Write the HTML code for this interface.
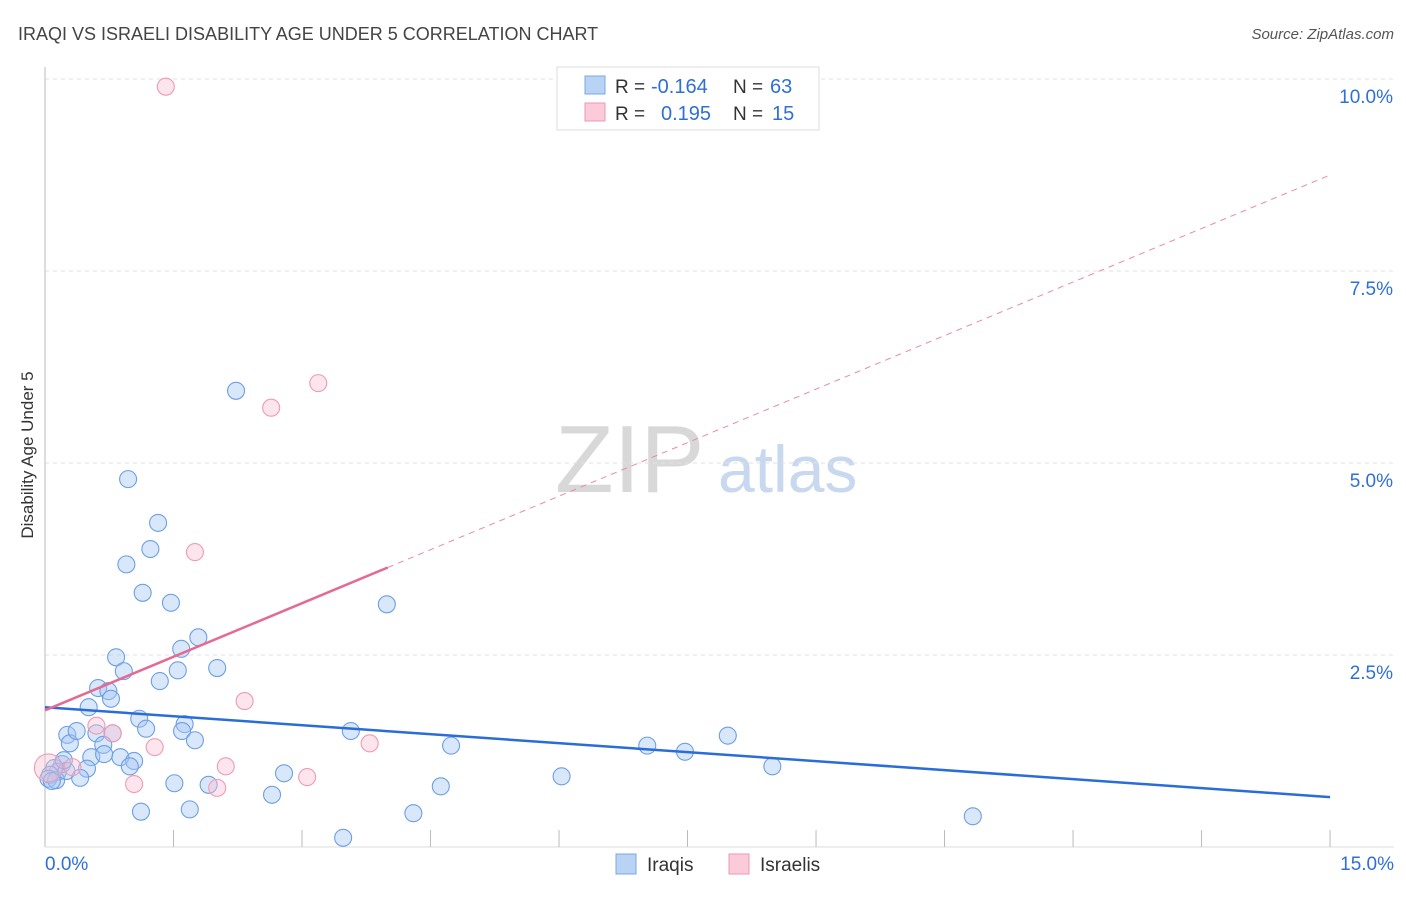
<!DOCTYPE html>
<html><head><meta charset="utf-8"><style>
body{margin:0;background:#fff;font-family:"Liberation Sans",sans-serif}
svg text{font-family:"Liberation Sans",sans-serif}
</style></head><body>
<svg id="chart" width="1406" height="892" xmlns="http://www.w3.org/2000/svg">
<text x="18" y="40" font-size="18" fill="#444">IRAQI VS ISRAELI DISABILITY AGE UNDER 5 CORRELATION CHART</text>
<text x="1394" y="39" font-size="15" fill="#555" font-style="italic" text-anchor="end">Source: ZipAtlas.com</text>
<text x="33" y="455" font-size="17" fill="#333" text-anchor="middle" transform="rotate(-90 33 455)">Disability Age Under 5</text>
<text x="555" y="492" font-size="96" fill="#d8d8d8" font-family="Liberation Serif">ZIP</text>
<text x="718" y="492" font-size="66" fill="#c8d8ee">atlas</text>
<g id="grid"></g><g id="marks"></g>
<g>
<rect x="557" y="67" width="262" height="63" fill="#fff" stroke="#ddd"/>
<rect x="585" y="76" width="20" height="18" fill="#b9d3f5" stroke="#7aa7e6"/>
<rect x="585" y="103" width="20" height="18" fill="#fbcbd9" stroke="#ef9ab5"/>
<text x="615" y="93" font-size="19" fill="#333">R =</text>
<text x="651" y="93" font-size="20" fill="#2f6fd6">-0.164</text>
<text x="733" y="93" font-size="19" fill="#333">N =</text>
<text x="770" y="93" font-size="20" fill="#2f6fd6">63</text>
<text x="615" y="120" font-size="19" fill="#333">R =</text>
<text x="661" y="120" font-size="20" fill="#2f6fd6">0.195</text>
<text x="733" y="120" font-size="19" fill="#333">N =</text>
<text x="772" y="120" font-size="20" fill="#2f6fd6">15</text>
</g>
<g>
<rect x="616" y="854" width="20" height="20" fill="#b9d3f5" stroke="#7aa7e6"/>
<text x="647" y="871" font-size="19" fill="#333">Iraqis</text>
<rect x="729" y="854" width="20" height="20" fill="#fbcbd9" stroke="#ef9ab5"/>
<text x="760" y="871" font-size="19" fill="#333">Israelis</text>
</g>
</svg>
<script>
const blueX=[2.23,0.97,1.32,1.23,0.95,1.14,1.47,3.99,1.79,1.59,0.83,0.92,1.55,2.01,1.34,0.62,0.74,0.77,0.51,1.10,1.18,1.63,1.60,3.57,1.75,0.26,0.29,0.60,0.79,0.68,0.37,4.74,7.03,7.47,7.97,0.54,0.88,0.69,1.04,0.99,8.49,0.49,0.41,0.20,0.11,0.15,0.06,0.04,0.13,2.79,1.51,1.91,6.03,4.62,2.65,1.12,1.69,4.30,3.48,10.83,0.25,0.22,0.08];
const blueY=[5.94,4.79,4.22,3.88,3.68,3.31,3.18,3.16,2.73,2.58,2.47,2.29,2.30,2.33,2.16,2.07,2.03,1.93,1.82,1.67,1.54,1.60,1.51,1.51,1.39,1.46,1.35,1.48,1.48,1.33,1.51,1.32,1.32,1.24,1.45,1.17,1.17,1.21,1.12,1.05,1.05,1.02,0.90,1.08,1.03,0.98,0.94,0.89,0.87,0.96,0.83,0.81,0.92,0.79,0.68,0.46,0.49,0.44,0.12,0.40,0.99,1.13,0.86];
const pinkX=[1.41,3.19,2.64,1.75,2.33,0.60,0.79,1.28,3.79,0.32,2.11,1.04,2.01,3.06,0.04];
const pinkY=[9.90,6.04,5.72,3.84,1.90,1.58,1.48,1.30,1.35,1.04,1.05,0.82,0.77,0.91,1.03];
const yTicks=[2.5,5.0,7.5,10.0];
const xTickLabels=["0.0%","15.0%"];
const blueTrend=[1.82,0.65]; // at x=0 and x=15
const pinkTrend=[1.78,8.75]; // at x=0 and x=15; solid until 4.0
const NS="http://www.w3.org/2000/svg";
const sx=v=>45+v*85.67, sy=v=>847-v*76.8;
function mk(tag,attrs,parent){const e=document.createElementNS(NS,tag);for(const k in attrs)e.setAttribute(k,attrs[k]);parent.appendChild(e);return e;}
const grid=document.getElementById('grid'), marks=document.getElementById('marks');
yTicks.forEach(t=>{
 const l=mk('line',{x1:45,x2:1394,y1:sy(t),y2:sy(t),stroke:'#e2e2e2','stroke-dasharray':'4,4'},grid);
 
 
 const tx=mk('text',{x:1393,y:sy(t)+24,'font-size':19,fill:'#2f6fd6','text-anchor':'end'},grid);
 tx.textContent=t.toFixed(1)+'%';
 
 
});
const ax=mk('line',{x1:45,x2:45,y1:67,y2:847,stroke:'#bbb'},grid);


const bx=mk('line',{x1:45,x2:1394,y1:847,y2:847,stroke:'#ddd'},grid);


for(let i=1;i<=10;i++){
 const t=mk('line',{x1:sx(i*1.5),x2:sx(i*1.5),y1:830,y2:847,stroke:'#bbb'},grid);
 
 
}
[[0,'start',45],[15,'end',1394]].forEach((a,i)=>{
 const tx=mk('text',{x:a[2],y:870,'font-size':19,fill:'#2f6fd6','text-anchor':a[1]},grid);
 tx.textContent=xTickLabels[i];
 
 
});
blueX.forEach((x,i)=>{
 const c=mk('circle',{cx:sx(x),cy:sy(blueY[i]),r:8.5,fill:'rgba(165,198,242,0.42)',stroke:'#6d9fe3','stroke-width':1.1},marks);
 
 
});
pinkX.forEach((x,i)=>{
 const c=mk('circle',{cx:sx(x),cy:sy(pinkY[i]),r:i===pinkX.length-1?14:8.5,fill:'rgba(248,192,210,0.42)',stroke:'#ee9bb5','stroke-width':1.1},marks);
 
 
});
const bl=mk('line',{x1:sx(0),y1:sy(blueTrend[0]),x2:sx(15),y2:sy(blueTrend[1]),stroke:'#2a6dd9','stroke-width':2.5},marks);


const pAt=x=>pinkTrend[0]+(pinkTrend[1]-pinkTrend[0])*x/15;
const pd=mk('line',{x1:sx(4),y1:sy(pAt(4)),x2:sx(15),y2:sy(pAt(15)),stroke:'#e88aa8','stroke-width':1,'stroke-dasharray':'6,5'},marks);


const ps=mk('line',{x1:sx(0),y1:sy(pAt(0)),x2:sx(4),y2:sy(pAt(4)),stroke:'#e56a93','stroke-width':2.5},marks);


</script>
</body></html>
